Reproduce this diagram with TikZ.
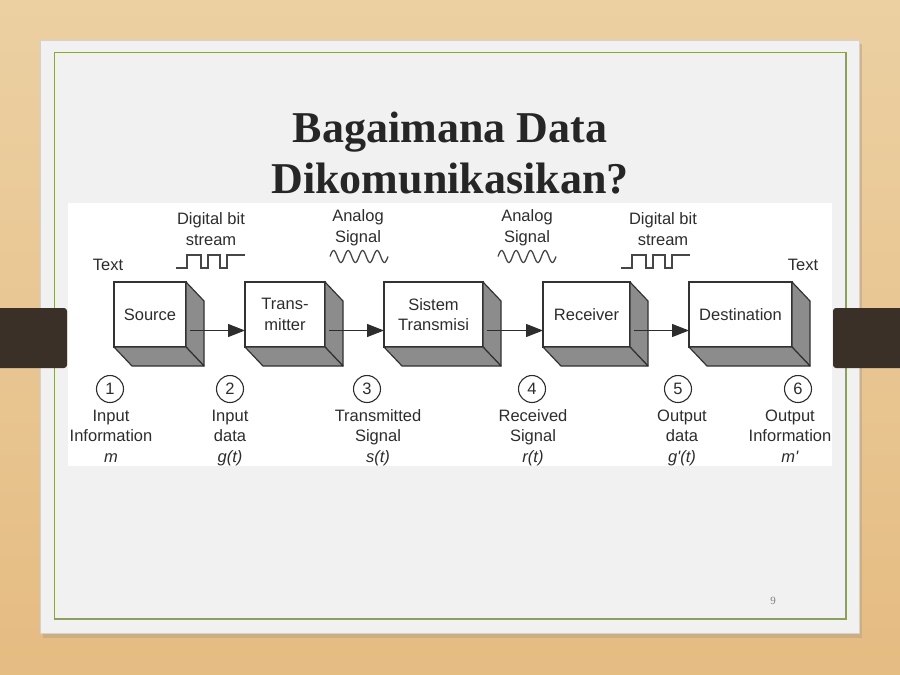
\documentclass[tikz,border=0pt]{standalone}
\usepackage{fontspec}
\setmainfont{Liberation Serif}
\newfontfamily\arial{Liberation Sans}
\usetikzlibrary{arrows.meta}
\definecolor{woodA}{RGB}{236,208,162}
\definecolor{woodB}{RGB}{229,188,130}
\definecolor{slidebg}{RGB}{241,241,241}
\definecolor{slideline}{RGB}{210,210,210}
\definecolor{shadowc}{RGB}{190,165,125}
\definecolor{greenb}{RGB}{141,160,90}
\definecolor{barc}{RGB}{58,48,39}
\definecolor{ink}{RGB}{45,45,45}
\definecolor{edge}{RGB}{50,50,50}
\definecolor{boxgray}{RGB}{140,140,140}
\definecolor{wavegray}{RGB}{70,70,70}
\definecolor{titlec}{RGB}{38,38,38}
\begin{document}
\begin{tikzpicture}[x=1pt,y=-1pt,
  txt/.style={font=\arial\fontsize{16.5}{20.5}\selectfont, text=ink, inner sep=0pt, align=center},
  front/.style={draw=edge, line width=1.2pt, fill=white, minimum height=65pt, inner sep=0pt, outer sep=0pt, txt},
  face/.style={draw=edge, line width=1.2pt, fill=boxgray, line join=round},
  num/.style={circle, draw=ink, line width=1.1pt, minimum size=27pt, inner sep=0pt, txt},
  arr/.style={-{Triangle[length=17pt,width=13pt]}, line width=1.2pt, draw=ink},
  wave/.style={line width=1.3pt, draw=wavegray, line join=miter},
  lbl/.style={txt, anchor=base},
  titlestyle/.style={font=\fontsize{44}{50}\selectfont\bfseries, text=titlec, inner sep=0pt, anchor=base}]
\useasboundingbox (0,0) rectangle (900,675);
% wood background
\shade[top color=woodA, bottom color=woodB] (0,0) rectangle (900,675);
% slide
\fill[shadowc, opacity=0.6] (43,44) rectangle (862,638);
\filldraw[fill=slidebg, draw=slideline, line width=0.6pt] (40,40) rectangle (859,633);
\draw[greenb, line width=1.5pt] (54.5,52.7) rectangle (846,619);
% title
\node[titlestyle] (t1) at (450,142) {Bagaimana Data};
\node[titlestyle] (t2) at (450,193) {Dikomunikasikan?};
% diagram panel
\fill[white] (68,203) rectangle (832,466);
% boxes
\node[front, minimum width=72pt] (src) at (150,314.5) {Source};
\node[front, minimum width=80pt] (tx) at (285,314.5) {Trans-\\mitter};
\node[front, minimum width=99pt] (ch) at (433.5,314.5) {Sistem\\Transmisi};
\node[front, minimum width=87pt] (rx) at (586.5,314.5) {Receiver};
\node[front, minimum width=103pt] (dst) at (740.5,314.5) {Destination};
\foreach \n in {src,tx,ch,rx,dst}{
  \filldraw[face] (\n.north east) -- ++(18,19) -- ([shift={(18,19)}]\n.south east) -- (\n.south east) -- cycle;
  \filldraw[face] (\n.south west) -- (\n.south east) -- ([shift={(18,19)}]\n.south east) -- ([shift={(18,19)}]\n.south west) -- cycle;
}
% arrows
\draw[arr] ([shift={(4,16)}]src.east) -- ([shift={(0,16)}]tx.west);
\draw[arr] ([shift={(4,16)}]tx.east) -- ([shift={(0,16)}]ch.west);
\draw[arr] ([shift={(4,16)}]ch.east) -- ([shift={(0,16)}]rx.west);
\draw[arr] ([shift={(4,16)}]rx.east) -- ([shift={(0,16)}]dst.west);
% top labels (base = last line)
\node[lbl] (txtL) at (108,270) {Text};
\node[lbl] (txtR) at (803,270) {Text};
\node[lbl] (dig1) at (211,245) {Digital bit\\stream};
\node[lbl] (ana1) at (358,242) {Analog\\Signal};
\node[lbl] (ana2) at (527,242) {Analog\\Signal};
\node[lbl] (dig2) at (663,245) {Digital bit\\stream};
% square waves
\coordinate (sq1) at (176,268);
\coordinate (sq2) at (621,268);
\foreach \c in {sq1,sq2}{
  \draw[wave] (\c) -- ++(11,0) -- ++(0,-13) -- ++(14,0) -- ++(0,13) -- ++(7,0) -- ++(0,-13) -- ++(12,0) -- ++(0,13) -- ++(7,0) -- ++(0,-13) -- ++(18,0);
}
% analog waves
\draw[wave] plot[domain=0:58,samples=150,smooth] ({330+\x},{256.5-6*sin(\x*24.8276)});
\draw[wave] plot[domain=0:58,samples=150,smooth] ({498+\x},{256.5-6*sin(\x*24.8276)});
% numbered circles
\node[num] (n1) at (110,389) {1};
\node[num] (n2) at (230,389) {2};
\node[num] (n3) at (367,389) {3};
\node[num] (n4) at (532,389) {4};
\node[num] (n5) at (678,389) {5};
\node[num] (n6) at (798,389) {6};
% bottom labels (base = last line)
\node[lbl] (b1) at (111,462) {Input\\Information\\\textit{m}};
\node[lbl] (b2) at (230,462) {Input\\data\\\textit{g(t)}};
\node[lbl] (b3) at (378,462) {Transmitted\\Signal\\\textit{s(t)}};
\node[lbl] (b4) at (533,462) {Received\\Signal\\\textit{r(t)}};
\node[lbl] (b5) at (682,462) {Output\\data\\\textit{g'(t)}};
\node[lbl] (b6) at (790,462) {Output\\Information\\\textit{m'}};
% dark bars
\fill[barc, rounded corners=3pt] (-5,308) rectangle (67,368);
\fill[barc, rounded corners=3pt] (833,308) rectangle (905,368);
% page number
\node[anchor=base, font=\fontsize{11}{13}\selectfont, text=gray, inner sep=0pt] (pg) at (773,604) {9};
\end{tikzpicture}
\end{document}
